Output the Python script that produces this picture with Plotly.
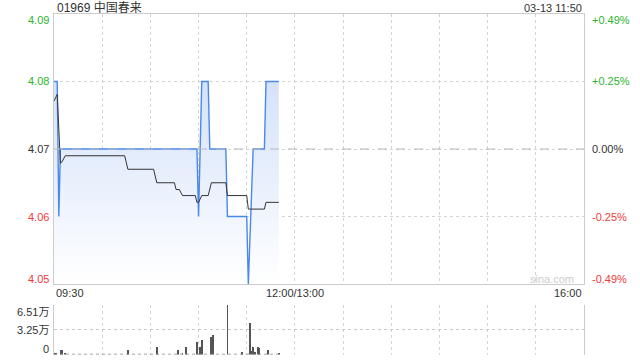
import plotly.graph_objects as go

# ---------------- data ----------------
DATE = "2024-03-13"
stock_title = "01969 中国春来"
stamp_text = "03-13 11:50"
prev_close = 4.07

# price line (change points, HH:MM)
price_times = ["09:30", "09:32", "09:33", "09:34", "10:59", "11:00", "11:02", "11:06",
               "11:07", "11:17", "11:18", "11:30", "11:31", "11:34", "11:41", "11:42", "11:50"]
price_values = [4.08, 4.08, 4.06, 4.07, 4.07, 4.06, 4.08, 4.08,
                4.07, 4.07, 4.06, 4.06, 4.05, 4.07, 4.07, 4.08, 4.08]

# average price line (change points)
avg_times = ["09:30", "09:32", "09:34", "09:35", "09:37", "10:14", "10:16", "10:32", "10:34",
             "10:45", "10:46", "10:48", "10:50", "10:58", "10:59", "11:00", "11:02", "11:06",
             "11:08", "11:17", "11:18", "11:30", "11:31", "11:41", "11:42", "11:50"]
avg_values = [4.0771, 4.0781, 4.0679, 4.0681, 4.0690, 4.0690, 4.0670, 4.0670, 4.0650,
              4.0650, 4.0640, 4.0640, 4.0631, 4.0631, 4.0621, 4.0621, 4.0631, 4.0631,
              4.0650, 4.0650, 4.0631, 4.0631, 4.0611, 4.0611, 4.0621, 4.0621]

# volume bars
vol_times = ["09:30", "09:31", "09:34", "09:35", "09:37", "10:16", "10:34", "10:47", "10:50",
             "10:52", "10:59", "11:01", "11:02", "11:08", "11:09", "11:18", "11:27", "11:32",
             "11:33", "11:34", "11:35", "11:37", "11:38", "11:43", "11:50"]
vol_values = [1500, 2200, 5600, 5600, 2200, 6500, 10000, 6100, 2200,
              10000, 16900, 10000, 19100, 23000, 25600, 65100, 3500, 41200,
              4800, 10000, 3500, 10000, 8700, 6100, 2200]

price_ticks = [4.09, 4.08, 4.07, 4.06, 4.05]
pct_labels = ["+0.49%", "+0.25%", "0.00%", "-0.25%", "-0.49%"]
vol_ticks = [65100, 32550, 0]
vol_labels = ["6.51万", "3.25万", "0"]
time_ticks = ["09:30", "13:00", "16:00"]
time_labels = ["09:30", "12:00/13:00", "16:00"]
session_start, session_end = "09:30", "16:00"
lunch_break = [12, 13]

# ---------------- style ----------------
W, H = 640, 360
FONT = "Liberation Sans, Arial, Noto Sans CJK SC, sans-serif"
GREEN = "#2db32d"
RED = "#f03a3a"
DARK = "#333333"
GRID = "#d4d4d4"
BORDER = "#cccccc"


def ts(t):
    return f"{DATE} {t}"


def px(x):
    return x / W


def py(y):
    return 1 - y / H


main_dom = [py(284), py(14)]
vol_dom = [py(354.5), py(305)]
x_dom = [px(54), px(584)]

fig = go.Figure()

fig.add_trace(go.Scatter(
    x=[ts(t) for t in price_times], y=price_values,
    mode="lines", line=dict(color="#4a88ea", width=1.4),
    fill="tozeroy",
    fillgradient=dict(type="vertical", start=4.05, stop=4.08,
                      colorscale=[[0, "rgba(255,255,255,1)"], [1, "rgba(212,226,250,1)"]]),
    xaxis="x", yaxis="y", hoverinfo="skip", showlegend=False))

fig.add_trace(go.Scatter(
    x=[ts(t) for t in avg_times], y=avg_values,
    mode="lines", line=dict(color="#333333", width=1),
    xaxis="x", yaxis="y", hoverinfo="skip", showlegend=False))

# faint baseline of tiny volumes over traded period
fig.add_trace(go.Scatter(
    x=[ts(price_times[0]), ts(price_times[-1])], y=[0, 0],
    mode="lines", line=dict(color="#888888", width=1.5, dash="dot"),
    xaxis="x2", yaxis="y2", hoverinfo="skip", showlegend=False))

fig.add_trace(go.Bar(
    x=[ts(t) for t in vol_times], y=vol_values,
    width=30000, marker=dict(color="#555555", line=dict(width=0)),
    xaxis="x2", yaxis="y2", hoverinfo="skip", showlegend=False))

xcommon = dict(
    type="date", domain=x_dom,
    range=[ts(session_start), ts(session_end)],
    rangebreaks=[dict(bounds=lunch_break, pattern="hour")],
    tick0=ts(session_start), dtick=30 * 60 * 1000,
    showticklabels=False, ticks="",
    showgrid=True, gridcolor=GRID, griddash="dot", gridwidth=1,
    zeroline=False, fixedrange=True,
)

fig.update_layout(
    width=W, height=H, autosize=False,
    margin=dict(l=0, r=0, t=0, b=0),
    paper_bgcolor="white", plot_bgcolor="white",
    font=dict(family=FONT, size=11, color=DARK),
    bargap=0,
    xaxis=dict(**xcommon, anchor="y", showline=True, mirror=True, linecolor=BORDER, linewidth=1),
    yaxis=dict(domain=main_dom, range=[4.05, 4.09], tickvals=price_ticks,
               showticklabels=False, ticks="", showgrid=True, gridcolor=GRID,
               griddash="dot", zeroline=False, showline=True, mirror=True,
               linecolor=BORDER, linewidth=1, anchor="x"),
    xaxis2=dict(**xcommon, anchor="y2", showline=False),
    yaxis2=dict(domain=vol_dom, range=[0, max(vol_ticks)], tickvals=vol_ticks,
                showticklabels=False, ticks="", showgrid=True, gridcolor="#c8c8c8",
                griddash="dot", zeroline=False, showline=True, mirror=True,
                linecolor=BORDER, linewidth=1, anchor="x2"),
    shapes=[dict(type="line", xref="paper", yref="y", x0=x_dom[0], x1=x_dom[1],
                 y0=prev_close, y1=prev_close,
                 line=dict(color="#b8b8b8", width=1, dash="dash"), layer="above")],
)

ann = []
ann.append(dict(text=stock_title, xref="paper", yref="paper", x=px(55), y=py(7.5),
                xanchor="left", yanchor="middle", showarrow=False,
                font=dict(size=12, color=DARK)))
ann.append(dict(text=stamp_text, xref="paper", yref="paper", x=px(584), y=py(7.5),
                xanchor="right", yanchor="middle", showarrow=False,
                font=dict(size=11, color=DARK)))

for i, (p, pct) in enumerate(zip(price_ticks, pct_labels)):
    if p > prev_close:
        col = GREEN
    elif p < prev_close:
        col = RED
    else:
        col = DARK
    shift = -6 if i == 0 else (5.5 if i == len(price_ticks) - 1 else 0)
    ann.append(dict(text=f"{p:.2f}", xref="paper", yref="y", x=px(51), y=p, yshift=shift,
                    xanchor="right", yanchor="middle", showarrow=False,
                    font=dict(size=11, color=col)))
    ann.append(dict(text=pct, xref="paper", yref="y", x=px(590), y=p, yshift=shift,
                    xanchor="left", yanchor="middle", showarrow=False,
                    font=dict(size=11, color=col)))

anchors = ["left", "center", "right"]
for t, lab, a in zip(time_ticks, time_labels, anchors):
    ann.append(dict(text=lab, xref="x", yref="paper", x=ts(t), y=py(293),
                    xanchor=a, yanchor="middle", showarrow=False,
                    font=dict(size=11, color=DARK)))

vshifts = [-7, 0, 5.5]
for v, lab, s in zip(vol_ticks, vol_labels, vshifts):
    ann.append(dict(text=lab, xref="paper", yref="y2", x=px(51), y=v, yshift=s,
                    xanchor="right", yanchor="middle", showarrow=False,
                    font=dict(size=11, color=DARK)))

ann.append(dict(text="sina.com", xref="paper", yref="paper", x=px(552), y=py(279),
                xanchor="center", yanchor="middle", showarrow=False,
                font=dict(size=11, color="#cccccc")))

fig.update_layout(annotations=ann)

fig.write_html("out.html")
